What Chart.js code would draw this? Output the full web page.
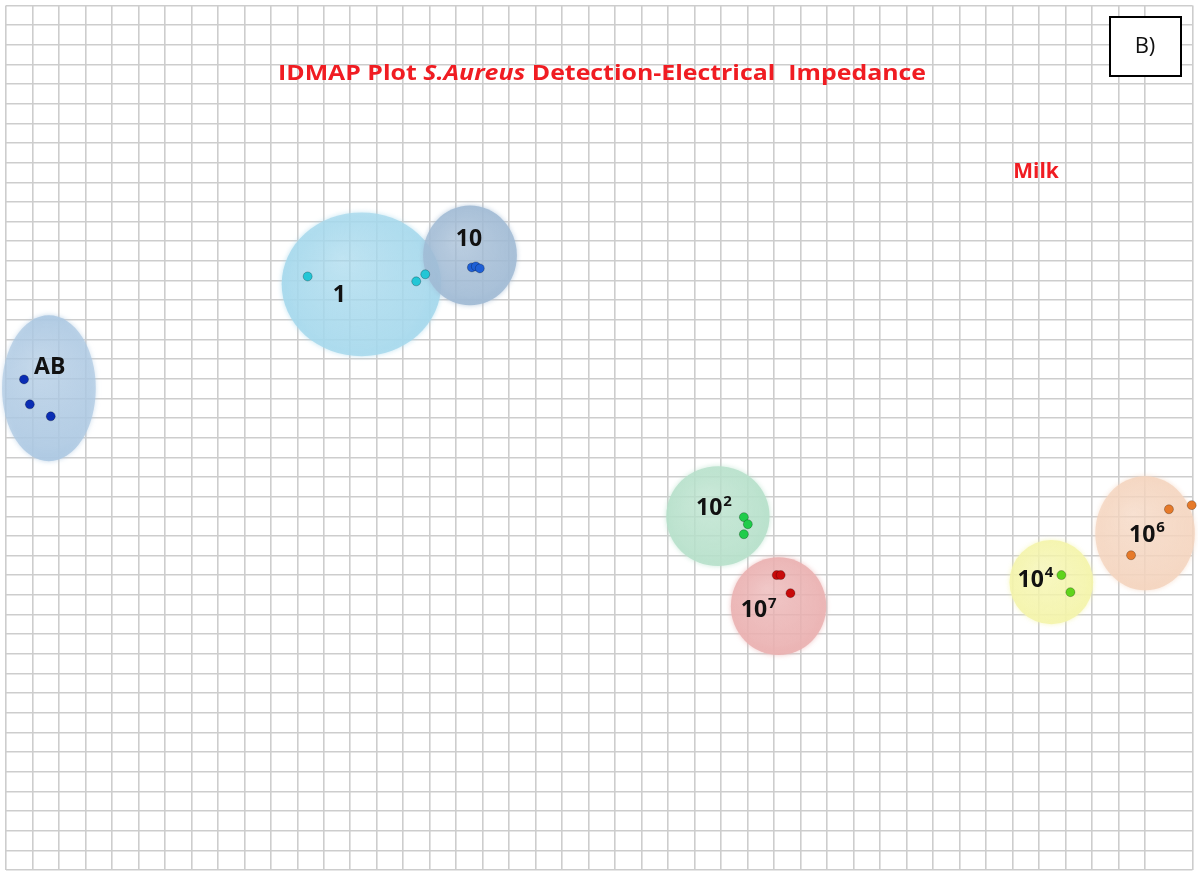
<!DOCTYPE html>
<html>
<head>
<meta charset="utf-8">
<script src="https://cdn.jsdelivr.net/npm/chart.js@4"></script>
<style>
  html, body { margin: 0; padding: 0; background: #fff; }
  #wrap { width: 1198px; height: 885px; }
</style>
</head>
<body>
<div id="wrap"><canvas id="idmap" width="1198" height="885"></canvas></div>
<script>
// cluster names (base + exponent)
const labelBase = ['AB', '1', '10', '10', '10', '10', '10'];
const labelExp  = ['',   '',  '',   '2',  '7',  '4',  '6'];

// samples, in grid units
const pointX = [
  [0.68, 0.90, 1.69],
  [11.39, 15.49, 15.83],
  [17.59, 17.74, 17.89],
  [27.86, 28.01, 27.86],
  [29.10, 29.25, 29.62],
  [39.85, 40.19],
  [43.91, 44.77, 42.48]
];
const pointY = [
  [24.97, 23.70, 23.09],
  [30.21, 29.96, 30.32],
  [30.67, 30.72, 30.62],
  [17.96, 17.60, 17.09],
  [15.01, 15.01, 14.09],
  [15.01, 14.14],
  [18.36, 18.57, 16.02]
];

// cluster areas
const hullX  = [1.62, 13.42, 17.52, 26.88, 29.17, 39.47, 43.01];
const hullY  = [24.52, 29.81, 31.28, 18.01, 13.43, 14.65, 17.14];
const hullRX = [1.77, 3.01, 1.77, 1.95, 1.80, 1.58, 1.88];
const hullRY = [3.71, 3.66, 2.54, 2.54, 2.49, 2.14, 2.90];

// label anchors
const labelX = [1.65, 12.59, 17.48, 26.73, 28.42, 38.87, 43.08];
const labelY = [25.58, 29.25, 32.10, 18.41, 13.22, 14.75, 17.04];

const dotColors  = ['#0a2db4', '#22c6d6', '#1e5fd6', '#1fcc4a', '#c80a0a', '#5fd41c', '#e67a2a'];
const hullColors = [[172, 200, 226], [165, 216, 236], [160, 186, 212], [182, 224, 202],
                    [234, 176, 176], [244, 244, 170], [244, 212, 190]];

const datasets = pointX.map((xs, i) => ({
  label: labelBase[i] + labelExp[i],
  data: xs.map((x, j) => ({ x: x, y: pointY[i][j] })),
  pointRadius: 4.5,
  pointBackgroundColor: dotColors[i],
  pointBorderColor: 'rgba(0,0,0,0.25)',
  pointBorderWidth: 1,
  clip: false
}));

const hullPlugin = {
  id: 'hulls',
  beforeDatasetsDraw(chart) {
    const ctx = chart.ctx;
    const xs = chart.scales.x, ys = chart.scales.y;
    hullX.forEach((hx, i) => {
      const cx = xs.getPixelForValue(hx);
      const cy = ys.getPixelForValue(hullY[i]);
      const rx = Math.abs(xs.getPixelForValue(hx + hullRX[i]) - cx);
      const ry = Math.abs(ys.getPixelForValue(hullY[i] + hullRY[i]) - cy);
      const [r, g, b] = hullColors[i];
      ctx.save();
      ctx.shadowColor = `rgba(${r},${g},${b},0.8)`;
      ctx.shadowBlur = 5;
      const grad = ctx.createRadialGradient(cx - rx * 0.25, cy - ry * 0.35, 0, cx, cy, Math.max(rx, ry));
      grad.addColorStop(0, `rgba(${r},${g},${b},0.5)`);
      grad.addColorStop(0.85, `rgba(${r},${g},${b},0.75)`);
      grad.addColorStop(1, `rgba(${r},${g},${b},0.9)`);
      ctx.fillStyle = grad;
      ctx.beginPath();
      ctx.ellipse(cx, cy, rx, ry, 0, 0, Math.PI * 2);
      ctx.fill();
      ctx.restore();
    });
  },
  afterDatasetsDraw(chart) {
    const ctx = chart.ctx;
    const xs = chart.scales.x, ys = chart.scales.y;
    ctx.save();
    ctx.fillStyle = '#111';
    ctx.textBaseline = 'middle';
    ctx.textAlign = 'left';
    labelBase.forEach((t, i) => {
      const px = xs.getPixelForValue(labelX[i]);
      const py = ys.getPixelForValue(labelY[i]);
      ctx.font = 'bold 23px "Open Sans"';
      const wb = ctx.measureText(t).width;
      ctx.font = 'bold 15px "Open Sans"';
      const we = labelExp[i] ? ctx.measureText(labelExp[i]).width + 1 : 0;
      const x0 = px - (wb + we) / 2;
      ctx.font = 'bold 23px "Open Sans"';
      ctx.fillText(t, x0, py);
      if (labelExp[i]) {
        ctx.font = 'bold 15px "Open Sans"';
        ctx.fillText(labelExp[i], x0 + wb + 1, py - 7);
      }
    });
    ctx.restore();
  },
  afterDraw(chart) {
    const ctx = chart.ctx;
    ctx.save();
    // title with italic species name, stretched to the original span
    const parts = [
      ['IDMAP Plot ', 'bold 21px "Open Sans"'],
      ['S.Aureus', 'italic bold 21px "Open Sans"'],
      [' Detection-Electrical  Impedance', 'bold 21px "Open Sans"']
    ];
    let total = 0;
    parts.forEach(p => { ctx.font = p[1]; total += ctx.measureText(p[0]).width; });
    const span = 648;
    const sx = span / total;
    ctx.fillStyle = '#f01c22';
    ctx.textBaseline = 'middle';
    ctx.textAlign = 'left';
    ctx.save();
    ctx.translate(278, 74);
    ctx.scale(sx, 1);
    let x = 0;
    parts.forEach(p => { ctx.font = p[1]; ctx.fillText(p[0], x, 0); x += ctx.measureText(p[0]).width; });
    ctx.restore();

    ctx.font = 'bold 21px "Open Sans"';
    ctx.textAlign = 'center';
    ctx.fillText('Milk', 1036, 172);

    // panel tag
    ctx.fillStyle = '#fff';
    ctx.fillRect(1110, 17, 71, 59);
    ctx.strokeStyle = '#000';
    ctx.lineWidth = 2;
    ctx.strokeRect(1110, 17, 71, 59);
    ctx.fillStyle = '#111';
    ctx.font = '22px "Open Sans"';
    ctx.fillText('B)', 1145, 47);
    ctx.restore();
  }
};

new Chart(document.getElementById('idmap'), {
  type: 'scatter',
  data: { datasets: datasets },
  options: {
    responsive: false,
    animation: false,
    layout: { padding: { left: 6, top: 5, right: 0, bottom: 15 } },
    plugins: { legend: { display: false }, tooltip: { enabled: false } },
    scales: {
      x: {
        min: 0, max: 44.8,
        ticks: { display: false, stepSize: 1 },
        grid: { color: 'rgba(205,205,205,1)', lineWidth: 1.6, drawTicks: false, tickLength: 0 },
        border: { display: false }
      },
      y: {
        min: 0, max: 44,
        ticks: { display: false, stepSize: 1 },
        grid: { color: 'rgba(205,205,205,1)', lineWidth: 1.6, drawTicks: false, tickLength: 0 },
        border: { display: false }
      }
    }
  },
  plugins: [hullPlugin]
});
</script>
</body>
</html>
